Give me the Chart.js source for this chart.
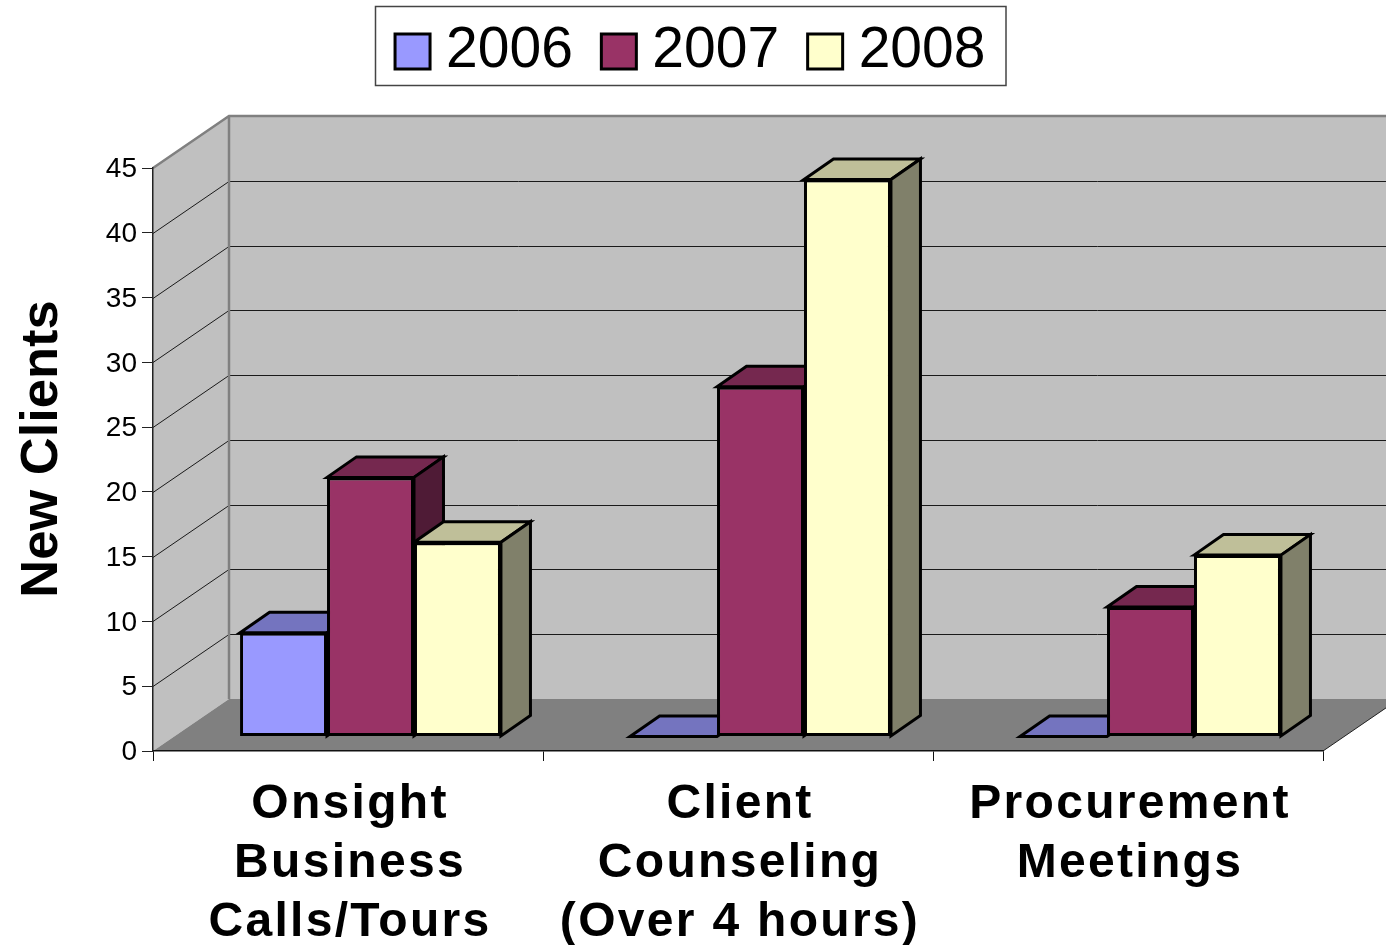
<!DOCTYPE html>
<html>
<head>
<meta charset="utf-8">
<style>
  html, body { margin: 0; padding: 0; background: #fff; }
  canvas { display: block; }
</style>
<script src="https://cdn.jsdelivr.net/npm/chart.js@4/dist/chart.umd.min.js"></script>
</head>
<body>
<canvas id="grafico" width="1386" height="945"></canvas>
<script>
// Data
const categorias = [['Onsight', 'Business', 'Calls/Tours'], ['Client', 'Counseling', '(Over 4 hours)'], ['Procurement', 'Meetings']];
const anos = ['2006', '2007', '2008'];
const valores2006 = [8, 0, 0];
const valores2007 = [20, 27, 10];
const valores2008 = [15, 43, 14];
const yTicks = [0, 5, 10, 15, 20, 25, 30, 35, 40, 45];

// Colours per series: front, top face, side face
const coresFrente = ['#9999FF', '#993366', '#FFFFCC'];
const coresTopo = ['#7474BF', '#75284F', '#BFBF99'];
const coresLado = ['#4C4C80', '#4F1B36', '#80806A'];

// Fake 3D geometry
const FUNDO_X = 76, FUNDO_Y = 52;      // depth of the floor
const BARRA_X = 22.5, BARRA_Y = 14.5;  // where the bars stand on the floor
const PROF_X = 29.5, PROF_Y = 20.5;    // depth of one bar

const paredes = {
    id: 'paredes',
    afterLayout(chart) {
        // legend sits above the plot, slightly off the layout's own centre
        const lg = chart.legend;
        const dx = 35;
        lg.left += dx;
        lg.right += dx;
        lg.top = -18;

        // letter spacing on category labels, small shifts on y labels and title
        const { x, y } = chart.scales;
        const ctx = chart.ctx;
        if (!x._ajustado) {
            const labels = x.drawLabels;
            x.drawLabels = function (area) {
                ctx.save();
                ctx.letterSpacing = '2.3px';
                ctx.translate(2, 0);
                labels.call(x, area);
                ctx.restore();
            };
            const numeros = y.drawLabels;
            y.drawLabels = function (area) {
                ctx.save();
                ctx.translate(0, 1.5);
                numeros.call(y, area);
                ctx.restore();
            };
            const titulo = y.drawTitle;
            y.drawTitle = function (area) {
                ctx.save();
                ctx.translate(0, -10.5);
                titulo.call(y, area);
                ctx.restore();
            };
            x._ajustado = true;
        }
    },
    beforeDraw(chart) {
        const { ctx, chartArea: a, scales: { y } } = chart;
        const fx = a.right + FUNDO_X, bx = a.left + FUNDO_X;

        ctx.save();
        // legend frame
        ctx.strokeStyle = '#444';
        ctx.lineWidth = 1.5;
        ctx.strokeRect(375.5, 6.5, 630.5, 79);

        // walls
        ctx.fillStyle = '#C0C0C0';
        ctx.beginPath();
        ctx.moveTo(a.left, a.bottom);
        ctx.lineTo(a.left, a.top);
        ctx.lineTo(bx, a.top - FUNDO_Y);
        ctx.lineTo(fx, a.top - FUNDO_Y);
        ctx.lineTo(fx, a.bottom - FUNDO_Y);
        ctx.lineTo(bx, a.bottom - FUNDO_Y);
        ctx.closePath();
        ctx.fill();

        // floor
        ctx.fillStyle = '#808080';
        ctx.beginPath();
        ctx.moveTo(a.left, a.bottom);
        ctx.lineTo(bx, a.bottom - FUNDO_Y);
        ctx.lineTo(fx, a.bottom - FUNDO_Y);
        ctx.lineTo(a.right, a.bottom);
        ctx.closePath();
        ctx.fill();

        // gridlines over both walls
        ctx.strokeStyle = '#1a1a1a';
        ctx.lineWidth = 1;
        yTicks.forEach(v => {
            if (v === 0 || v === yTicks[yTicks.length - 1]) return;
            const py = Math.round(y.getPixelForValue(v)) + 0.5;
            ctx.beginPath();
            ctx.moveTo(a.left, py);
            ctx.lineTo(bx, py - FUNDO_Y);
            ctx.lineTo(fx, py - FUNDO_Y);
            ctx.stroke();
        });

        // grey edges of the walls
        ctx.strokeStyle = '#808080';
        ctx.lineWidth = 2.5;
        ctx.beginPath();
        ctx.moveTo(a.left, a.top);
        ctx.lineTo(bx, a.top - FUNDO_Y);
        ctx.lineTo(fx, a.top - FUNDO_Y);
        ctx.moveTo(bx, a.top - FUNDO_Y);
        ctx.lineTo(bx, a.bottom - FUNDO_Y);
        ctx.stroke();

        // right edge of the floor
        ctx.strokeStyle = '#222';
        ctx.lineWidth = 1;
        ctx.beginPath();
        ctx.moveTo(a.right, a.bottom);
        ctx.lineTo(fx, a.bottom - FUNDO_Y);
        ctx.stroke();
        ctx.restore();
    },
    beforeDatasetsDraw(chart) {
        const ctx = chart.ctx;
        ctx.save();
        ctx.translate(BARRA_X, -BARRA_Y);

        // top and side faces first, the library paints the fronts over them
        ctx.strokeStyle = '#000';
        ctx.lineWidth = 3;
        ctx.lineJoin = 'miter';
        chart.data.datasets.forEach((ds, i) => {
            chart.getDatasetMeta(i).data.forEach(bar => {
                const esq = bar.x - bar.width / 2, dir = bar.x + bar.width / 2;

                ctx.fillStyle = coresTopo[i];
                ctx.beginPath();
                ctx.moveTo(esq, bar.y);
                ctx.lineTo(esq + PROF_X, bar.y - PROF_Y);
                ctx.lineTo(dir + PROF_X, bar.y - PROF_Y);
                ctx.lineTo(dir, bar.y);
                ctx.closePath();
                ctx.fill();
                ctx.stroke();

                if (bar.base > bar.y) {
                    ctx.fillStyle = coresLado[i];
                    ctx.beginPath();
                    ctx.moveTo(dir, bar.y);
                    ctx.lineTo(dir + PROF_X, bar.y - PROF_Y);
                    ctx.lineTo(dir + PROF_X, bar.base - PROF_Y);
                    ctx.lineTo(dir, bar.base);
                    ctx.closePath();
                    ctx.fill();
                    ctx.stroke();
                }
            });
        });
    },
    afterDatasetsDraw(chart) {
        chart.ctx.restore();
    }
};

const serie = (i, dados) => ({
    label: anos[i],
    data: dados,
    backgroundColor: coresFrente[i],
    borderColor: '#000',
    borderWidth: 3,
    borderSkipped: false,
    categoryPercentage: 0.669,
    barPercentage: 1
});

new Chart(document.getElementById('grafico'), {
    type: 'bar',
    data: {
        labels: categorias,
        datasets: [serie(0, valores2006), serie(1, valores2007), serie(2, valores2008)]
    },
    plugins: [paredes],
    options: {
        responsive: false,
        animation: false,
        devicePixelRatio: 1,
        layout: { padding: { top: 60, right: 63, left: 0, bottom: 0 } },
        plugins: {
            tooltip: { enabled: false },
            legend: {
                position: 'top',
                labels: {
                    usePointStyle: true,
                    pointStyle: 'rect',
                    boxWidth: 10,
                    boxHeight: 35,
                    padding: 41,
                    color: '#000',
                    font: { family: '"Liberation Sans", Arial, sans-serif', size: 57 }
                }
            }
        },
        scales: {
            x: {
                afterFit(s) { s.height = 194; },
                grid: { drawOnChartArea: false, tickLength: 10, color: '#111', lineWidth: 1 },
                border: { color: '#111', width: 1.5 },
                ticks: {
                    autoSkip: false,
                    maxRotation: 0,
                    minRotation: 0,
                    padding: 14,
                    color: '#000',
                    font: { family: '"Liberation Sans", Arial, sans-serif', size: 48, weight: 'bold', lineHeight: 1.23 }
                }
            },
            y: {
                min: 0,
                max: 45,
                afterFit(s) { s.width = 153; },
                afterBuildTicks(s) { s.ticks = yTicks.map(v => ({ value: v })); },
                grid: { drawOnChartArea: false, tickLength: 11, color: '#222', lineWidth: 1 },
                border: { color: '#222', width: 1.5 },
                ticks: {
                    padding: 5,
                    color: '#000',
                    font: { family: '"Liberation Sans", Arial, sans-serif', size: 28 }
                },
                title: {
                    display: true,
                    text: 'New Clients',
                    color: '#000',
                    padding: { top: 11, bottom: 0 },
                    font: { family: '"Liberation Sans", Arial, sans-serif', size: 52.5, weight: 'bold' }
                }
            }
        }
    }
});
</script>
</body>
</html>
